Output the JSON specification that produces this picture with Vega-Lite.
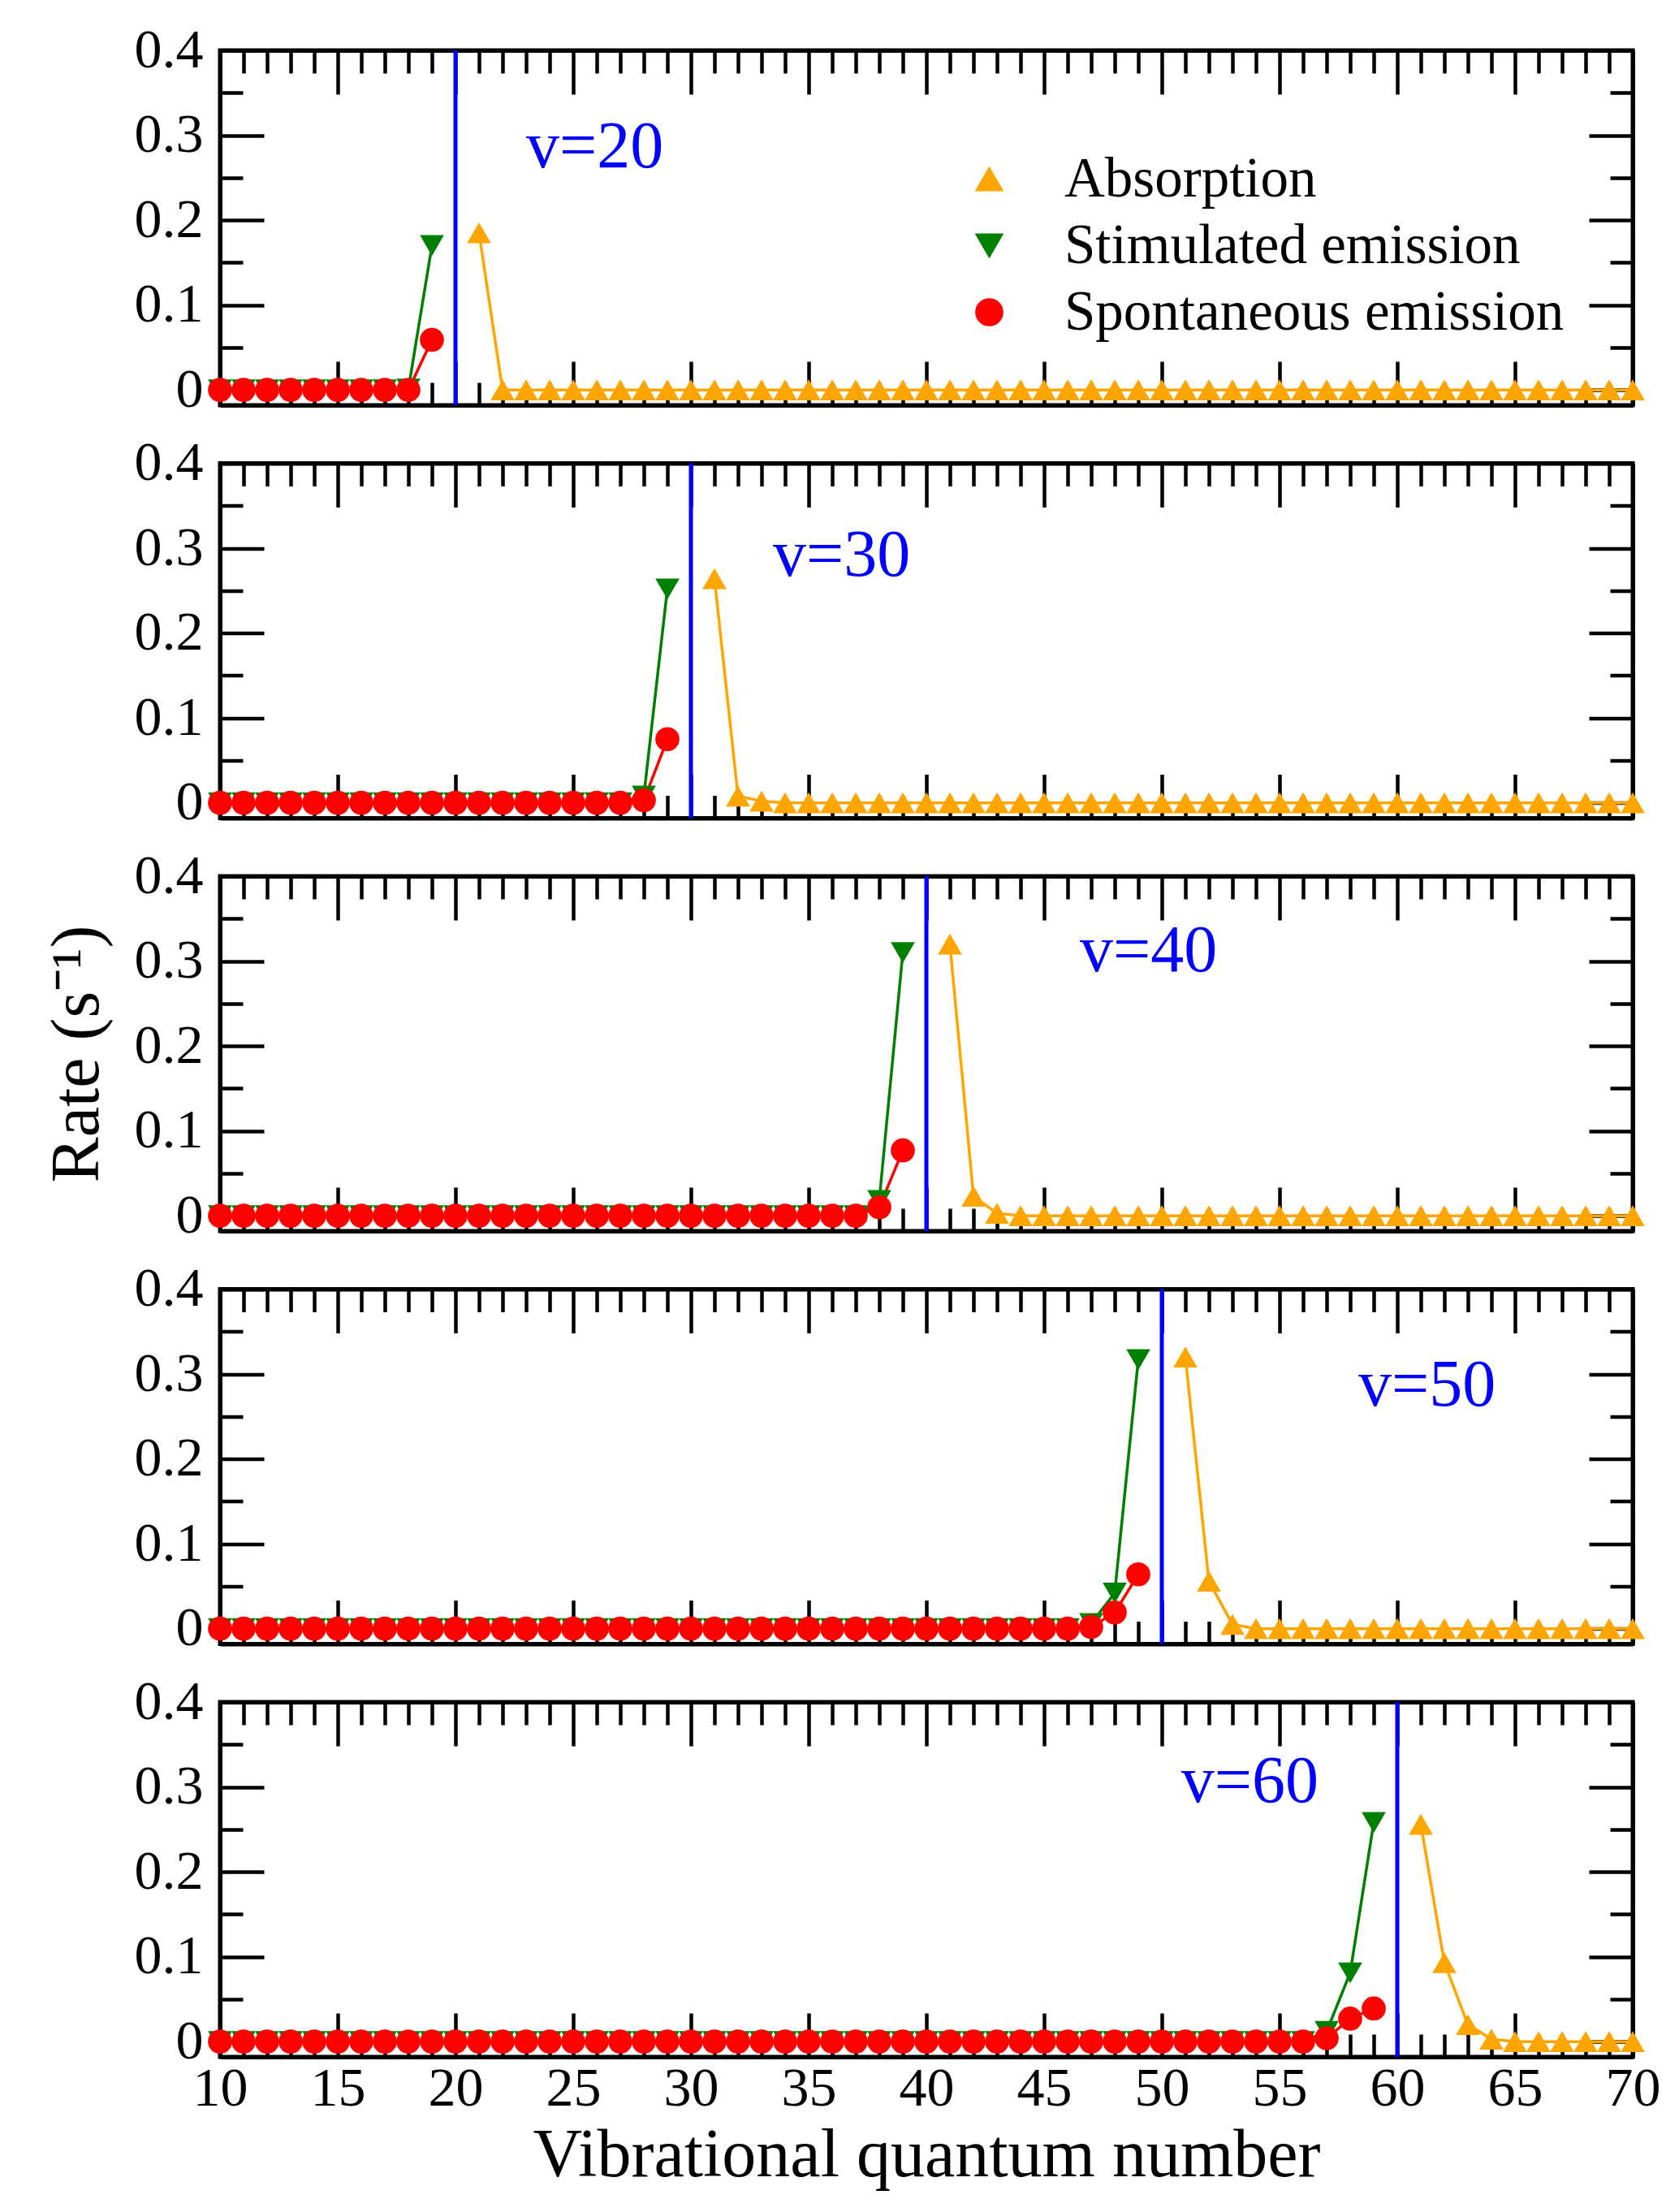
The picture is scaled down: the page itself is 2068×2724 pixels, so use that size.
{
"$schema":"https://vega.github.io/schema/vega-lite/v6.json",
"background":"white",
"padding":{"left":50,"top":25,"right":5,"bottom":5},
"datasets":{
"panels":[{"v":20,"label":"v=20"},{"v":30,"label":"v=30"},{"v":40,"label":"v=40"},{"v":50,"label":"v=50"},{"v":60,"label":"v=60"}],
"rates":[
{"v":20,"series":"A","n":21,"rate":0.185},{"v":20,"series":"A","n":22,"rate":0},{"v":20,"series":"A","n":23,"rate":0},{"v":20,"series":"A","n":24,"rate":0},{"v":20,"series":"A","n":25,"rate":0},{"v":20,"series":"A","n":26,"rate":0},{"v":20,"series":"A","n":27,"rate":0},{"v":20,"series":"A","n":28,"rate":0},{"v":20,"series":"A","n":29,"rate":0},{"v":20,"series":"A","n":30,"rate":0},{"v":20,"series":"A","n":31,"rate":0},{"v":20,"series":"A","n":32,"rate":0},{"v":20,"series":"A","n":33,"rate":0},{"v":20,"series":"A","n":34,"rate":0},{"v":20,"series":"A","n":35,"rate":0},{"v":20,"series":"A","n":36,"rate":0},{"v":20,"series":"A","n":37,"rate":0},{"v":20,"series":"A","n":38,"rate":0},{"v":20,"series":"A","n":39,"rate":0},{"v":20,"series":"A","n":40,"rate":0},{"v":20,"series":"A","n":41,"rate":0},{"v":20,"series":"A","n":42,"rate":0},{"v":20,"series":"A","n":43,"rate":0},{"v":20,"series":"A","n":44,"rate":0},{"v":20,"series":"A","n":45,"rate":0},{"v":20,"series":"A","n":46,"rate":0},{"v":20,"series":"A","n":47,"rate":0},{"v":20,"series":"A","n":48,"rate":0},{"v":20,"series":"A","n":49,"rate":0},{"v":20,"series":"A","n":50,"rate":0},{"v":20,"series":"A","n":51,"rate":0},{"v":20,"series":"A","n":52,"rate":0},{"v":20,"series":"A","n":53,"rate":0},{"v":20,"series":"A","n":54,"rate":0},{"v":20,"series":"A","n":55,"rate":0},{"v":20,"series":"A","n":56,"rate":0},{"v":20,"series":"A","n":57,"rate":0},{"v":20,"series":"A","n":58,"rate":0},{"v":20,"series":"A","n":59,"rate":0},{"v":20,"series":"A","n":60,"rate":0},{"v":20,"series":"A","n":61,"rate":0},{"v":20,"series":"A","n":62,"rate":0},{"v":20,"series":"A","n":63,"rate":0},{"v":20,"series":"A","n":64,"rate":0},{"v":20,"series":"A","n":65,"rate":0},{"v":20,"series":"A","n":66,"rate":0},{"v":20,"series":"A","n":67,"rate":0},{"v":20,"series":"A","n":68,"rate":0},{"v":20,"series":"A","n":69,"rate":0},{"v":20,"series":"A","n":70,"rate":0},
{"v":20,"series":"S","n":10,"rate":0},{"v":20,"series":"S","n":11,"rate":0},{"v":20,"series":"S","n":12,"rate":0},{"v":20,"series":"S","n":13,"rate":0},{"v":20,"series":"S","n":14,"rate":0},{"v":20,"series":"S","n":15,"rate":0},{"v":20,"series":"S","n":16,"rate":0},{"v":20,"series":"S","n":17,"rate":0},{"v":20,"series":"S","n":18,"rate":0.001},{"v":20,"series":"S","n":19,"rate":0.170},
{"v":20,"series":"P","n":10,"rate":0},{"v":20,"series":"P","n":11,"rate":0},{"v":20,"series":"P","n":12,"rate":0},{"v":20,"series":"P","n":13,"rate":0},{"v":20,"series":"P","n":14,"rate":0},{"v":20,"series":"P","n":15,"rate":0},{"v":20,"series":"P","n":16,"rate":0},{"v":20,"series":"P","n":17,"rate":0},{"v":20,"series":"P","n":18,"rate":0},{"v":20,"series":"P","n":19,"rate":0.059},
{"v":30,"series":"A","n":31,"rate":0.264},{"v":30,"series":"A","n":32,"rate":0.008},{"v":30,"series":"A","n":33,"rate":0.002},{"v":30,"series":"A","n":34,"rate":0},{"v":30,"series":"A","n":35,"rate":0},{"v":30,"series":"A","n":36,"rate":0},{"v":30,"series":"A","n":37,"rate":0},{"v":30,"series":"A","n":38,"rate":0},{"v":30,"series":"A","n":39,"rate":0},{"v":30,"series":"A","n":40,"rate":0},{"v":30,"series":"A","n":41,"rate":0},{"v":30,"series":"A","n":42,"rate":0},{"v":30,"series":"A","n":43,"rate":0},{"v":30,"series":"A","n":44,"rate":0},{"v":30,"series":"A","n":45,"rate":0},{"v":30,"series":"A","n":46,"rate":0},{"v":30,"series":"A","n":47,"rate":0},{"v":30,"series":"A","n":48,"rate":0},{"v":30,"series":"A","n":49,"rate":0},{"v":30,"series":"A","n":50,"rate":0},{"v":30,"series":"A","n":51,"rate":0},{"v":30,"series":"A","n":52,"rate":0},{"v":30,"series":"A","n":53,"rate":0},{"v":30,"series":"A","n":54,"rate":0},{"v":30,"series":"A","n":55,"rate":0},{"v":30,"series":"A","n":56,"rate":0},{"v":30,"series":"A","n":57,"rate":0},{"v":30,"series":"A","n":58,"rate":0},{"v":30,"series":"A","n":59,"rate":0},{"v":30,"series":"A","n":60,"rate":0},{"v":30,"series":"A","n":61,"rate":0},{"v":30,"series":"A","n":62,"rate":0},{"v":30,"series":"A","n":63,"rate":0},{"v":30,"series":"A","n":64,"rate":0},{"v":30,"series":"A","n":65,"rate":0},{"v":30,"series":"A","n":66,"rate":0},{"v":30,"series":"A","n":67,"rate":0},{"v":30,"series":"A","n":68,"rate":0},{"v":30,"series":"A","n":69,"rate":0},{"v":30,"series":"A","n":70,"rate":0},
{"v":30,"series":"S","n":10,"rate":0},{"v":30,"series":"S","n":11,"rate":0},{"v":30,"series":"S","n":12,"rate":0},{"v":30,"series":"S","n":13,"rate":0},{"v":30,"series":"S","n":14,"rate":0},{"v":30,"series":"S","n":15,"rate":0},{"v":30,"series":"S","n":16,"rate":0},{"v":30,"series":"S","n":17,"rate":0},{"v":30,"series":"S","n":18,"rate":0},{"v":30,"series":"S","n":19,"rate":0},{"v":30,"series":"S","n":20,"rate":0},{"v":30,"series":"S","n":21,"rate":0},{"v":30,"series":"S","n":22,"rate":0},{"v":30,"series":"S","n":23,"rate":0},{"v":30,"series":"S","n":24,"rate":0},{"v":30,"series":"S","n":25,"rate":0},{"v":30,"series":"S","n":26,"rate":0},{"v":30,"series":"S","n":27,"rate":0},{"v":30,"series":"S","n":28,"rate":0.008},{"v":30,"series":"S","n":29,"rate":0.252},
{"v":30,"series":"P","n":10,"rate":0},{"v":30,"series":"P","n":11,"rate":0},{"v":30,"series":"P","n":12,"rate":0},{"v":30,"series":"P","n":13,"rate":0},{"v":30,"series":"P","n":14,"rate":0},{"v":30,"series":"P","n":15,"rate":0},{"v":30,"series":"P","n":16,"rate":0},{"v":30,"series":"P","n":17,"rate":0},{"v":30,"series":"P","n":18,"rate":0},{"v":30,"series":"P","n":19,"rate":0},{"v":30,"series":"P","n":20,"rate":0},{"v":30,"series":"P","n":21,"rate":0},{"v":30,"series":"P","n":22,"rate":0},{"v":30,"series":"P","n":23,"rate":0},{"v":30,"series":"P","n":24,"rate":0},{"v":30,"series":"P","n":25,"rate":0},{"v":30,"series":"P","n":26,"rate":0},{"v":30,"series":"P","n":27,"rate":0},{"v":30,"series":"P","n":28,"rate":0.003},{"v":30,"series":"P","n":29,"rate":0.075},
{"v":40,"series":"A","n":41,"rate":0.320},{"v":40,"series":"A","n":42,"rate":0.023},{"v":40,"series":"A","n":43,"rate":0.003},{"v":40,"series":"A","n":44,"rate":0},{"v":40,"series":"A","n":45,"rate":0},{"v":40,"series":"A","n":46,"rate":0},{"v":40,"series":"A","n":47,"rate":0},{"v":40,"series":"A","n":48,"rate":0},{"v":40,"series":"A","n":49,"rate":0},{"v":40,"series":"A","n":50,"rate":0},{"v":40,"series":"A","n":51,"rate":0},{"v":40,"series":"A","n":52,"rate":0},{"v":40,"series":"A","n":53,"rate":0},{"v":40,"series":"A","n":54,"rate":0},{"v":40,"series":"A","n":55,"rate":0},{"v":40,"series":"A","n":56,"rate":0},{"v":40,"series":"A","n":57,"rate":0},{"v":40,"series":"A","n":58,"rate":0},{"v":40,"series":"A","n":59,"rate":0},{"v":40,"series":"A","n":60,"rate":0},{"v":40,"series":"A","n":61,"rate":0},{"v":40,"series":"A","n":62,"rate":0},{"v":40,"series":"A","n":63,"rate":0},{"v":40,"series":"A","n":64,"rate":0},{"v":40,"series":"A","n":65,"rate":0},{"v":40,"series":"A","n":66,"rate":0},{"v":40,"series":"A","n":67,"rate":0},{"v":40,"series":"A","n":68,"rate":0},{"v":40,"series":"A","n":69,"rate":0},{"v":40,"series":"A","n":70,"rate":0},
{"v":40,"series":"S","n":10,"rate":0},{"v":40,"series":"S","n":11,"rate":0},{"v":40,"series":"S","n":12,"rate":0},{"v":40,"series":"S","n":13,"rate":0},{"v":40,"series":"S","n":14,"rate":0},{"v":40,"series":"S","n":15,"rate":0},{"v":40,"series":"S","n":16,"rate":0},{"v":40,"series":"S","n":17,"rate":0},{"v":40,"series":"S","n":18,"rate":0},{"v":40,"series":"S","n":19,"rate":0},{"v":40,"series":"S","n":20,"rate":0},{"v":40,"series":"S","n":21,"rate":0},{"v":40,"series":"S","n":22,"rate":0},{"v":40,"series":"S","n":23,"rate":0},{"v":40,"series":"S","n":24,"rate":0},{"v":40,"series":"S","n":25,"rate":0},{"v":40,"series":"S","n":26,"rate":0},{"v":40,"series":"S","n":27,"rate":0},{"v":40,"series":"S","n":28,"rate":0},{"v":40,"series":"S","n":29,"rate":0},{"v":40,"series":"S","n":30,"rate":0},{"v":40,"series":"S","n":31,"rate":0},{"v":40,"series":"S","n":32,"rate":0},{"v":40,"series":"S","n":33,"rate":0},{"v":40,"series":"S","n":34,"rate":0},{"v":40,"series":"S","n":35,"rate":0},{"v":40,"series":"S","n":36,"rate":0},{"v":40,"series":"S","n":37,"rate":0},{"v":40,"series":"S","n":38,"rate":0.018},{"v":40,"series":"S","n":39,"rate":0.310},
{"v":40,"series":"P","n":10,"rate":0},{"v":40,"series":"P","n":11,"rate":0},{"v":40,"series":"P","n":12,"rate":0},{"v":40,"series":"P","n":13,"rate":0},{"v":40,"series":"P","n":14,"rate":0},{"v":40,"series":"P","n":15,"rate":0},{"v":40,"series":"P","n":16,"rate":0},{"v":40,"series":"P","n":17,"rate":0},{"v":40,"series":"P","n":18,"rate":0},{"v":40,"series":"P","n":19,"rate":0},{"v":40,"series":"P","n":20,"rate":0},{"v":40,"series":"P","n":21,"rate":0},{"v":40,"series":"P","n":22,"rate":0},{"v":40,"series":"P","n":23,"rate":0},{"v":40,"series":"P","n":24,"rate":0},{"v":40,"series":"P","n":25,"rate":0},{"v":40,"series":"P","n":26,"rate":0},{"v":40,"series":"P","n":27,"rate":0},{"v":40,"series":"P","n":28,"rate":0},{"v":40,"series":"P","n":29,"rate":0},{"v":40,"series":"P","n":30,"rate":0},{"v":40,"series":"P","n":31,"rate":0},{"v":40,"series":"P","n":32,"rate":0},{"v":40,"series":"P","n":33,"rate":0},{"v":40,"series":"P","n":34,"rate":0},{"v":40,"series":"P","n":35,"rate":0},{"v":40,"series":"P","n":36,"rate":0},{"v":40,"series":"P","n":37,"rate":0},{"v":40,"series":"P","n":38,"rate":0.010},{"v":40,"series":"P","n":39,"rate":0.077},
{"v":50,"series":"A","n":51,"rate":0.320},{"v":50,"series":"A","n":52,"rate":0.056},{"v":50,"series":"A","n":53,"rate":0.005},{"v":50,"series":"A","n":54,"rate":0},{"v":50,"series":"A","n":55,"rate":0},{"v":50,"series":"A","n":56,"rate":0},{"v":50,"series":"A","n":57,"rate":0},{"v":50,"series":"A","n":58,"rate":0},{"v":50,"series":"A","n":59,"rate":0},{"v":50,"series":"A","n":60,"rate":0},{"v":50,"series":"A","n":61,"rate":0},{"v":50,"series":"A","n":62,"rate":0},{"v":50,"series":"A","n":63,"rate":0},{"v":50,"series":"A","n":64,"rate":0},{"v":50,"series":"A","n":65,"rate":0},{"v":50,"series":"A","n":66,"rate":0},{"v":50,"series":"A","n":67,"rate":0},{"v":50,"series":"A","n":68,"rate":0},{"v":50,"series":"A","n":69,"rate":0},{"v":50,"series":"A","n":70,"rate":0},
{"v":50,"series":"S","n":10,"rate":0},{"v":50,"series":"S","n":11,"rate":0},{"v":50,"series":"S","n":12,"rate":0},{"v":50,"series":"S","n":13,"rate":0},{"v":50,"series":"S","n":14,"rate":0},{"v":50,"series":"S","n":15,"rate":0},{"v":50,"series":"S","n":16,"rate":0},{"v":50,"series":"S","n":17,"rate":0},{"v":50,"series":"S","n":18,"rate":0},{"v":50,"series":"S","n":19,"rate":0},{"v":50,"series":"S","n":20,"rate":0},{"v":50,"series":"S","n":21,"rate":0},{"v":50,"series":"S","n":22,"rate":0},{"v":50,"series":"S","n":23,"rate":0},{"v":50,"series":"S","n":24,"rate":0},{"v":50,"series":"S","n":25,"rate":0},{"v":50,"series":"S","n":26,"rate":0},{"v":50,"series":"S","n":27,"rate":0},{"v":50,"series":"S","n":28,"rate":0},{"v":50,"series":"S","n":29,"rate":0},{"v":50,"series":"S","n":30,"rate":0},{"v":50,"series":"S","n":31,"rate":0},{"v":50,"series":"S","n":32,"rate":0},{"v":50,"series":"S","n":33,"rate":0},{"v":50,"series":"S","n":34,"rate":0},{"v":50,"series":"S","n":35,"rate":0},{"v":50,"series":"S","n":36,"rate":0},{"v":50,"series":"S","n":37,"rate":0},{"v":50,"series":"S","n":38,"rate":0},{"v":50,"series":"S","n":39,"rate":0},{"v":50,"series":"S","n":40,"rate":0},{"v":50,"series":"S","n":41,"rate":0},{"v":50,"series":"S","n":42,"rate":0},{"v":50,"series":"S","n":43,"rate":0},{"v":50,"series":"S","n":44,"rate":0},{"v":50,"series":"S","n":45,"rate":0},{"v":50,"series":"S","n":46,"rate":0},{"v":50,"series":"S","n":47,"rate":0.006},{"v":50,"series":"S","n":48,"rate":0.042},{"v":50,"series":"S","n":49,"rate":0.317},
{"v":50,"series":"P","n":10,"rate":0},{"v":50,"series":"P","n":11,"rate":0},{"v":50,"series":"P","n":12,"rate":0},{"v":50,"series":"P","n":13,"rate":0},{"v":50,"series":"P","n":14,"rate":0},{"v":50,"series":"P","n":15,"rate":0},{"v":50,"series":"P","n":16,"rate":0},{"v":50,"series":"P","n":17,"rate":0},{"v":50,"series":"P","n":18,"rate":0},{"v":50,"series":"P","n":19,"rate":0},{"v":50,"series":"P","n":20,"rate":0},{"v":50,"series":"P","n":21,"rate":0},{"v":50,"series":"P","n":22,"rate":0},{"v":50,"series":"P","n":23,"rate":0},{"v":50,"series":"P","n":24,"rate":0},{"v":50,"series":"P","n":25,"rate":0},{"v":50,"series":"P","n":26,"rate":0},{"v":50,"series":"P","n":27,"rate":0},{"v":50,"series":"P","n":28,"rate":0},{"v":50,"series":"P","n":29,"rate":0},{"v":50,"series":"P","n":30,"rate":0},{"v":50,"series":"P","n":31,"rate":0},{"v":50,"series":"P","n":32,"rate":0},{"v":50,"series":"P","n":33,"rate":0},{"v":50,"series":"P","n":34,"rate":0},{"v":50,"series":"P","n":35,"rate":0},{"v":50,"series":"P","n":36,"rate":0},{"v":50,"series":"P","n":37,"rate":0},{"v":50,"series":"P","n":38,"rate":0},{"v":50,"series":"P","n":39,"rate":0},{"v":50,"series":"P","n":40,"rate":0},{"v":50,"series":"P","n":41,"rate":0},{"v":50,"series":"P","n":42,"rate":0},{"v":50,"series":"P","n":43,"rate":0},{"v":50,"series":"P","n":44,"rate":0},{"v":50,"series":"P","n":45,"rate":0},{"v":50,"series":"P","n":46,"rate":0},{"v":50,"series":"P","n":47,"rate":0.002},{"v":50,"series":"P","n":48,"rate":0.019},{"v":50,"series":"P","n":49,"rate":0.064},
{"v":60,"series":"A","n":61,"rate":0.256},{"v":60,"series":"A","n":62,"rate":0.093},{"v":60,"series":"A","n":63,"rate":0.020},{"v":60,"series":"A","n":64,"rate":0.003},{"v":60,"series":"A","n":65,"rate":0},{"v":60,"series":"A","n":66,"rate":0},{"v":60,"series":"A","n":67,"rate":0},{"v":60,"series":"A","n":68,"rate":0},{"v":60,"series":"A","n":69,"rate":0},{"v":60,"series":"A","n":70,"rate":0},
{"v":60,"series":"S","n":10,"rate":0},{"v":60,"series":"S","n":11,"rate":0},{"v":60,"series":"S","n":12,"rate":0},{"v":60,"series":"S","n":13,"rate":0},{"v":60,"series":"S","n":14,"rate":0},{"v":60,"series":"S","n":15,"rate":0},{"v":60,"series":"S","n":16,"rate":0},{"v":60,"series":"S","n":17,"rate":0},{"v":60,"series":"S","n":18,"rate":0},{"v":60,"series":"S","n":19,"rate":0},{"v":60,"series":"S","n":20,"rate":0},{"v":60,"series":"S","n":21,"rate":0},{"v":60,"series":"S","n":22,"rate":0},{"v":60,"series":"S","n":23,"rate":0},{"v":60,"series":"S","n":24,"rate":0},{"v":60,"series":"S","n":25,"rate":0},{"v":60,"series":"S","n":26,"rate":0},{"v":60,"series":"S","n":27,"rate":0},{"v":60,"series":"S","n":28,"rate":0},{"v":60,"series":"S","n":29,"rate":0},{"v":60,"series":"S","n":30,"rate":0},{"v":60,"series":"S","n":31,"rate":0},{"v":60,"series":"S","n":32,"rate":0},{"v":60,"series":"S","n":33,"rate":0},{"v":60,"series":"S","n":34,"rate":0},{"v":60,"series":"S","n":35,"rate":0},{"v":60,"series":"S","n":36,"rate":0},{"v":60,"series":"S","n":37,"rate":0},{"v":60,"series":"S","n":38,"rate":0},{"v":60,"series":"S","n":39,"rate":0},{"v":60,"series":"S","n":40,"rate":0},{"v":60,"series":"S","n":41,"rate":0},{"v":60,"series":"S","n":42,"rate":0},{"v":60,"series":"S","n":43,"rate":0},{"v":60,"series":"S","n":44,"rate":0},{"v":60,"series":"S","n":45,"rate":0},{"v":60,"series":"S","n":46,"rate":0},{"v":60,"series":"S","n":47,"rate":0},{"v":60,"series":"S","n":48,"rate":0},{"v":60,"series":"S","n":49,"rate":0},{"v":60,"series":"S","n":50,"rate":0},{"v":60,"series":"S","n":51,"rate":0},{"v":60,"series":"S","n":52,"rate":0},{"v":60,"series":"S","n":53,"rate":0},{"v":60,"series":"S","n":54,"rate":0},{"v":60,"series":"S","n":55,"rate":0},{"v":60,"series":"S","n":56,"rate":0},{"v":60,"series":"S","n":57,"rate":0.012},{"v":60,"series":"S","n":58,"rate":0.081},{"v":60,"series":"S","n":59,"rate":0.258},
{"v":60,"series":"P","n":10,"rate":0},{"v":60,"series":"P","n":11,"rate":0},{"v":60,"series":"P","n":12,"rate":0},{"v":60,"series":"P","n":13,"rate":0},{"v":60,"series":"P","n":14,"rate":0},{"v":60,"series":"P","n":15,"rate":0},{"v":60,"series":"P","n":16,"rate":0},{"v":60,"series":"P","n":17,"rate":0},{"v":60,"series":"P","n":18,"rate":0},{"v":60,"series":"P","n":19,"rate":0},{"v":60,"series":"P","n":20,"rate":0},{"v":60,"series":"P","n":21,"rate":0},{"v":60,"series":"P","n":22,"rate":0},{"v":60,"series":"P","n":23,"rate":0},{"v":60,"series":"P","n":24,"rate":0},{"v":60,"series":"P","n":25,"rate":0},{"v":60,"series":"P","n":26,"rate":0},{"v":60,"series":"P","n":27,"rate":0},{"v":60,"series":"P","n":28,"rate":0},{"v":60,"series":"P","n":29,"rate":0},{"v":60,"series":"P","n":30,"rate":0},{"v":60,"series":"P","n":31,"rate":0},{"v":60,"series":"P","n":32,"rate":0},{"v":60,"series":"P","n":33,"rate":0},{"v":60,"series":"P","n":34,"rate":0},{"v":60,"series":"P","n":35,"rate":0},{"v":60,"series":"P","n":36,"rate":0},{"v":60,"series":"P","n":37,"rate":0},{"v":60,"series":"P","n":38,"rate":0},{"v":60,"series":"P","n":39,"rate":0},{"v":60,"series":"P","n":40,"rate":0},{"v":60,"series":"P","n":41,"rate":0},{"v":60,"series":"P","n":42,"rate":0},{"v":60,"series":"P","n":43,"rate":0},{"v":60,"series":"P","n":44,"rate":0},{"v":60,"series":"P","n":45,"rate":0},{"v":60,"series":"P","n":46,"rate":0},{"v":60,"series":"P","n":47,"rate":0},{"v":60,"series":"P","n":48,"rate":0},{"v":60,"series":"P","n":49,"rate":0},{"v":60,"series":"P","n":50,"rate":0},{"v":60,"series":"P","n":51,"rate":0},{"v":60,"series":"P","n":52,"rate":0},{"v":60,"series":"P","n":53,"rate":0},{"v":60,"series":"P","n":54,"rate":0},{"v":60,"series":"P","n":55,"rate":0},{"v":60,"series":"P","n":56,"rate":0},{"v":60,"series":"P","n":57,"rate":0.004},{"v":60,"series":"P","n":58,"rate":0.027},{"v":60,"series":"P","n":59,"rate":0.039}
]},
"spacing":71.5,
"bounds":"flush",
"vconcat":[
{"width":1740,"height":437,
 "resolve":{"axis":{"x":"independent","y":"independent"}},
 "layer":[
  {"data":{"name":"panels"},"transform":[{"filter":"datum.v === 20"}],"mark":{"type":"rule","color":"#0000FF","strokeWidth":5},"encoding":{"x":{"field":"v","type":"quantitative","axis":null}}},
  {"data":{"name":"rates"},"transform":[{"filter":"datum.v === 20"}],"mark":{"type":"line","strokeWidth":3.5},
   "encoding":{
    "x":{"field":"n","type":"quantitative","scale":{"domain":[10,70],"nice":false,"zero":false},"axis":{"orient":"bottom","values":[10,11,12,13,14,15,16,17,18,19,20,21,22,23,24,25,26,27,28,29,30,31,32,33,34,35,36,37,38,39,40,41,42,43,44,45,46,47,48,49,50,51,52,53,54,55,56,57,58,59,60,61,62,63,64,65,66,67,68,69,70],"labels":false,"title":null,"tickSize":{"condition":{"test":"datum.value % 5 === 0","value":-54},"value":-28}}},
    "y":{"field":"rate","type":"quantitative","scale":{"domain":[-0.018,0.4],"nice":false,"zero":false},"axis":{"orient":"left","values":[0,0.05,0.1,0.15,0.2,0.25,0.3,0.35,0.4],"labelExpr":"datum.value === 0 ? '0' : (round(datum.value*100) % 10 === 0 ? format(datum.value, '.1f') : '')","labelPadding":75,"title":null,"tickSize":{"condition":{"test":"round(datum.value*100) % 10 === 0","value":-54},"value":-28}}},
    "color":{"field":"series","type":"nominal","scale":{"domain":["A","S","P"],"range":["#FFA500","#008000","#FF0000"]},
      "legend":{"title":null,"orient":"none","legendX":913,"legendY":124,"padding":0,"labelFont":"Liberation Serif","labelFontSize":69,"labelColor":"black","labelLimit":2000,"symbolSize":1100,"labelOffset":58,"rowPadding":12,
       "labelExpr":"datum.value === 'A' ? 'Absorption' : datum.value === 'S' ? 'Stimulated emission' : 'Spontaneous emission'"}},
    "detail":{"field":"series"},
    "order":{"field":"n","type":"quantitative"}}},
  {"data":{"name":"rates"},"transform":[{"filter":"datum.v === 20"}],"mark":{"type":"point","filled":true,"opacity":1,"size":880},
   "encoding":{
    "x":{"field":"n","type":"quantitative","scale":{"domain":[10,70],"nice":false,"zero":false},"axis":{"orient":"top","values":[10,11,12,13,14,15,16,17,18,19,20,21,22,23,24,25,26,27,28,29,30,31,32,33,34,35,36,37,38,39,40,41,42,43,44,45,46,47,48,49,50,51,52,53,54,55,56,57,58,59,60,61,62,63,64,65,66,67,68,69,70],"labels":false,"title":null,"tickSize":{"condition":{"test":"datum.value % 5 === 0","value":-54},"value":-28}}},
    "y":{"field":"rate","type":"quantitative","scale":{"domain":[-0.018,0.4],"nice":false,"zero":false},"axis":{"orient":"right","values":[0,0.05,0.1,0.15,0.2,0.25,0.3,0.35,0.4],"labels":false,"title":null,"tickSize":{"condition":{"test":"round(datum.value*100) % 10 === 0","value":-54},"value":-28}}},
    "color":{"field":"series","type":"nominal","scale":{"domain":["A","S","P"],"range":["#FFA500","#008000","#FF0000"]},"legend":null},
    "shape":{"field":"series","type":"nominal","scale":{"domain":["A","S","P"],"range":["triangle-up","triangle-down","circle"]},"legend":null}}},
  {"data":{"name":"panels"},"transform":[{"filter":"datum.v === 20"}],"mark":{"type":"text","align":"left","baseline":"alphabetic","dx":87,"font":"Liberation Serif","fontSize":82,"color":"#0000FF"},
   "encoding":{"x":{"field":"v","type":"quantitative","axis":null},"y":{"datum":0.262,"axis":null},"text":{"field":"label"}}}
 ]},
{"width":1740,"height":437,
 "resolve":{"axis":{"x":"independent","y":"independent"}},
 "layer":[
  {"data":{"name":"panels"},"transform":[{"filter":"datum.v === 30"}],"mark":{"type":"rule","color":"#0000FF","strokeWidth":5},"encoding":{"x":{"field":"v","type":"quantitative","axis":null}}},
  {"data":{"name":"rates"},"transform":[{"filter":"datum.v === 30"}],"mark":{"type":"line","strokeWidth":3.5},
   "encoding":{
    "x":{"field":"n","type":"quantitative","scale":{"domain":[10,70],"nice":false,"zero":false},"axis":{"orient":"bottom","values":[10,11,12,13,14,15,16,17,18,19,20,21,22,23,24,25,26,27,28,29,30,31,32,33,34,35,36,37,38,39,40,41,42,43,44,45,46,47,48,49,50,51,52,53,54,55,56,57,58,59,60,61,62,63,64,65,66,67,68,69,70],"labels":false,"title":null,"tickSize":{"condition":{"test":"datum.value % 5 === 0","value":-54},"value":-28}}},
    "y":{"field":"rate","type":"quantitative","scale":{"domain":[-0.018,0.4],"nice":false,"zero":false},"axis":{"orient":"left","values":[0,0.05,0.1,0.15,0.2,0.25,0.3,0.35,0.4],"labelExpr":"datum.value === 0 ? '0' : (round(datum.value*100) % 10 === 0 ? format(datum.value, '.1f') : '')","labelPadding":75,"title":null,"tickSize":{"condition":{"test":"round(datum.value*100) % 10 === 0","value":-54},"value":-28}}},
    "color":{"field":"series","type":"nominal","scale":{"domain":["A","S","P"],"range":["#FFA500","#008000","#FF0000"]},"legend":null},
    "detail":{"field":"series"},
    "order":{"field":"n","type":"quantitative"}}},
  {"data":{"name":"rates"},"transform":[{"filter":"datum.v === 30"}],"mark":{"type":"point","filled":true,"opacity":1,"size":880},
   "encoding":{
    "x":{"field":"n","type":"quantitative","scale":{"domain":[10,70],"nice":false,"zero":false},"axis":{"orient":"top","values":[10,11,12,13,14,15,16,17,18,19,20,21,22,23,24,25,26,27,28,29,30,31,32,33,34,35,36,37,38,39,40,41,42,43,44,45,46,47,48,49,50,51,52,53,54,55,56,57,58,59,60,61,62,63,64,65,66,67,68,69,70],"labels":false,"title":null,"tickSize":{"condition":{"test":"datum.value % 5 === 0","value":-54},"value":-28}}},
    "y":{"field":"rate","type":"quantitative","scale":{"domain":[-0.018,0.4],"nice":false,"zero":false},"axis":{"orient":"right","values":[0,0.05,0.1,0.15,0.2,0.25,0.3,0.35,0.4],"labels":false,"title":null,"tickSize":{"condition":{"test":"round(datum.value*100) % 10 === 0","value":-54},"value":-28}}},
    "color":{"field":"series","type":"nominal","scale":{"domain":["A","S","P"],"range":["#FFA500","#008000","#FF0000"]},"legend":null},
    "shape":{"field":"series","type":"nominal","scale":{"domain":["A","S","P"],"range":["triangle-up","triangle-down","circle"]},"legend":null}}},
  {"data":{"name":"panels"},"transform":[{"filter":"datum.v === 30"}],"mark":{"type":"text","align":"left","baseline":"alphabetic","dx":101,"font":"Liberation Serif","fontSize":82,"color":"#0000FF"},
   "encoding":{"x":{"field":"v","type":"quantitative","axis":null},"y":{"datum":0.2675,"axis":null},"text":{"field":"label"}}}
 ]},
{"width":1740,"height":437,
 "resolve":{"axis":{"x":"independent","y":"independent"}},
 "layer":[
  {"data":{"name":"panels"},"transform":[{"filter":"datum.v === 40"}],"mark":{"type":"rule","color":"#0000FF","strokeWidth":5},"encoding":{"x":{"field":"v","type":"quantitative","axis":null}}},
  {"data":{"name":"rates"},"transform":[{"filter":"datum.v === 40"}],"mark":{"type":"line","strokeWidth":3.5},
   "encoding":{
    "x":{"field":"n","type":"quantitative","scale":{"domain":[10,70],"nice":false,"zero":false},"axis":{"orient":"bottom","values":[10,11,12,13,14,15,16,17,18,19,20,21,22,23,24,25,26,27,28,29,30,31,32,33,34,35,36,37,38,39,40,41,42,43,44,45,46,47,48,49,50,51,52,53,54,55,56,57,58,59,60,61,62,63,64,65,66,67,68,69,70],"labels":false,"title":null,"tickSize":{"condition":{"test":"datum.value % 5 === 0","value":-54},"value":-28}}},
    "y":{"field":"rate","type":"quantitative","scale":{"domain":[-0.018,0.4],"nice":false,"zero":false},"axis":{"orient":"left","values":[0,0.05,0.1,0.15,0.2,0.25,0.3,0.35,0.4],"labelExpr":"datum.value === 0 ? '0' : (round(datum.value*100) % 10 === 0 ? format(datum.value, '.1f') : '')","labelPadding":75,"title":"Rate (s⁻¹)","titlePadding":27,"tickSize":{"condition":{"test":"round(datum.value*100) % 10 === 0","value":-54},"value":-28}}},
    "color":{"field":"series","type":"nominal","scale":{"domain":["A","S","P"],"range":["#FFA500","#008000","#FF0000"]},"legend":null},
    "detail":{"field":"series"},
    "order":{"field":"n","type":"quantitative"}}},
  {"data":{"name":"rates"},"transform":[{"filter":"datum.v === 40"}],"mark":{"type":"point","filled":true,"opacity":1,"size":880},
   "encoding":{
    "x":{"field":"n","type":"quantitative","scale":{"domain":[10,70],"nice":false,"zero":false},"axis":{"orient":"top","values":[10,11,12,13,14,15,16,17,18,19,20,21,22,23,24,25,26,27,28,29,30,31,32,33,34,35,36,37,38,39,40,41,42,43,44,45,46,47,48,49,50,51,52,53,54,55,56,57,58,59,60,61,62,63,64,65,66,67,68,69,70],"labels":false,"title":null,"tickSize":{"condition":{"test":"datum.value % 5 === 0","value":-54},"value":-28}}},
    "y":{"field":"rate","type":"quantitative","scale":{"domain":[-0.018,0.4],"nice":false,"zero":false},"axis":{"orient":"right","values":[0,0.05,0.1,0.15,0.2,0.25,0.3,0.35,0.4],"labels":false,"title":null,"tickSize":{"condition":{"test":"round(datum.value*100) % 10 === 0","value":-54},"value":-28}}},
    "color":{"field":"series","type":"nominal","scale":{"domain":["A","S","P"],"range":["#FFA500","#008000","#FF0000"]},"legend":null},
    "shape":{"field":"series","type":"nominal","scale":{"domain":["A","S","P"],"range":["triangle-up","triangle-down","circle"]},"legend":null}}},
  {"data":{"name":"panels"},"transform":[{"filter":"datum.v === 40"}],"mark":{"type":"text","align":"left","baseline":"alphabetic","dx":189,"font":"Liberation Serif","fontSize":82,"color":"#0000FF"},
   "encoding":{"x":{"field":"v","type":"quantitative","axis":null},"y":{"datum":0.288,"axis":null},"text":{"field":"label"}}}
 ]},
{"width":1740,"height":437,
 "resolve":{"axis":{"x":"independent","y":"independent"}},
 "layer":[
  {"data":{"name":"panels"},"transform":[{"filter":"datum.v === 50"}],"mark":{"type":"rule","color":"#0000FF","strokeWidth":5},"encoding":{"x":{"field":"v","type":"quantitative","axis":null}}},
  {"data":{"name":"rates"},"transform":[{"filter":"datum.v === 50"}],"mark":{"type":"line","strokeWidth":3.5},
   "encoding":{
    "x":{"field":"n","type":"quantitative","scale":{"domain":[10,70],"nice":false,"zero":false},"axis":{"orient":"bottom","values":[10,11,12,13,14,15,16,17,18,19,20,21,22,23,24,25,26,27,28,29,30,31,32,33,34,35,36,37,38,39,40,41,42,43,44,45,46,47,48,49,50,51,52,53,54,55,56,57,58,59,60,61,62,63,64,65,66,67,68,69,70],"labels":false,"title":null,"tickSize":{"condition":{"test":"datum.value % 5 === 0","value":-54},"value":-28}}},
    "y":{"field":"rate","type":"quantitative","scale":{"domain":[-0.018,0.4],"nice":false,"zero":false},"axis":{"orient":"left","values":[0,0.05,0.1,0.15,0.2,0.25,0.3,0.35,0.4],"labelExpr":"datum.value === 0 ? '0' : (round(datum.value*100) % 10 === 0 ? format(datum.value, '.1f') : '')","labelPadding":75,"title":null,"tickSize":{"condition":{"test":"round(datum.value*100) % 10 === 0","value":-54},"value":-28}}},
    "color":{"field":"series","type":"nominal","scale":{"domain":["A","S","P"],"range":["#FFA500","#008000","#FF0000"]},"legend":null},
    "detail":{"field":"series"},
    "order":{"field":"n","type":"quantitative"}}},
  {"data":{"name":"rates"},"transform":[{"filter":"datum.v === 50"}],"mark":{"type":"point","filled":true,"opacity":1,"size":880},
   "encoding":{
    "x":{"field":"n","type":"quantitative","scale":{"domain":[10,70],"nice":false,"zero":false},"axis":{"orient":"top","values":[10,11,12,13,14,15,16,17,18,19,20,21,22,23,24,25,26,27,28,29,30,31,32,33,34,35,36,37,38,39,40,41,42,43,44,45,46,47,48,49,50,51,52,53,54,55,56,57,58,59,60,61,62,63,64,65,66,67,68,69,70],"labels":false,"title":null,"tickSize":{"condition":{"test":"datum.value % 5 === 0","value":-54},"value":-28}}},
    "y":{"field":"rate","type":"quantitative","scale":{"domain":[-0.018,0.4],"nice":false,"zero":false},"axis":{"orient":"right","values":[0,0.05,0.1,0.15,0.2,0.25,0.3,0.35,0.4],"labels":false,"title":null,"tickSize":{"condition":{"test":"round(datum.value*100) % 10 === 0","value":-54},"value":-28}}},
    "color":{"field":"series","type":"nominal","scale":{"domain":["A","S","P"],"range":["#FFA500","#008000","#FF0000"]},"legend":null},
    "shape":{"field":"series","type":"nominal","scale":{"domain":["A","S","P"],"range":["triangle-up","triangle-down","circle"]},"legend":null}}},
  {"data":{"name":"panels"},"transform":[{"filter":"datum.v === 50"}],"mark":{"type":"text","align":"left","baseline":"alphabetic","dx":242,"font":"Liberation Serif","fontSize":82,"color":"#0000FF"},
   "encoding":{"x":{"field":"v","type":"quantitative","axis":null},"y":{"datum":0.263,"axis":null},"text":{"field":"label"}}}
 ]},
{"width":1740,"height":437,
 "resolve":{"axis":{"x":"independent","y":"independent"}},
 "layer":[
  {"data":{"name":"panels"},"transform":[{"filter":"datum.v === 60"}],"mark":{"type":"rule","color":"#0000FF","strokeWidth":5},"encoding":{"x":{"field":"v","type":"quantitative","axis":null}}},
  {"data":{"name":"rates"},"transform":[{"filter":"datum.v === 60"}],"mark":{"type":"line","strokeWidth":3.5},
   "encoding":{
    "x":{"field":"n","type":"quantitative","scale":{"domain":[10,70],"nice":false,"zero":false},"axis":{"orient":"bottom","values":[10,11,12,13,14,15,16,17,18,19,20,21,22,23,24,25,26,27,28,29,30,31,32,33,34,35,36,37,38,39,40,41,42,43,44,45,46,47,48,49,50,51,52,53,54,55,56,57,58,59,60,61,62,63,64,65,66,67,68,69,70],"labelExpr":"datum.value % 5 === 0 ? datum.label : ''","labelPadding":59,"title":"Vibrational quantum number","titlePadding":7,"tickSize":{"condition":{"test":"datum.value % 5 === 0","value":-54},"value":-28}}},
    "y":{"field":"rate","type":"quantitative","scale":{"domain":[-0.018,0.4],"nice":false,"zero":false},"axis":{"orient":"left","values":[0,0.05,0.1,0.15,0.2,0.25,0.3,0.35,0.4],"labelExpr":"datum.value === 0 ? '0' : (round(datum.value*100) % 10 === 0 ? format(datum.value, '.1f') : '')","labelPadding":75,"title":null,"tickSize":{"condition":{"test":"round(datum.value*100) % 10 === 0","value":-54},"value":-28}}},
    "color":{"field":"series","type":"nominal","scale":{"domain":["A","S","P"],"range":["#FFA500","#008000","#FF0000"]},"legend":null},
    "detail":{"field":"series"},
    "order":{"field":"n","type":"quantitative"}}},
  {"data":{"name":"rates"},"transform":[{"filter":"datum.v === 60"}],"mark":{"type":"point","filled":true,"opacity":1,"size":880},
   "encoding":{
    "x":{"field":"n","type":"quantitative","scale":{"domain":[10,70],"nice":false,"zero":false},"axis":{"orient":"top","values":[10,11,12,13,14,15,16,17,18,19,20,21,22,23,24,25,26,27,28,29,30,31,32,33,34,35,36,37,38,39,40,41,42,43,44,45,46,47,48,49,50,51,52,53,54,55,56,57,58,59,60,61,62,63,64,65,66,67,68,69,70],"labels":false,"title":null,"tickSize":{"condition":{"test":"datum.value % 5 === 0","value":-54},"value":-28}}},
    "y":{"field":"rate","type":"quantitative","scale":{"domain":[-0.018,0.4],"nice":false,"zero":false},"axis":{"orient":"right","values":[0,0.05,0.1,0.15,0.2,0.25,0.3,0.35,0.4],"labels":false,"title":null,"tickSize":{"condition":{"test":"round(datum.value*100) % 10 === 0","value":-54},"value":-28}}},
    "color":{"field":"series","type":"nominal","scale":{"domain":["A","S","P"],"range":["#FFA500","#008000","#FF0000"]},"legend":null},
    "shape":{"field":"series","type":"nominal","scale":{"domain":["A","S","P"],"range":["triangle-up","triangle-down","circle"]},"legend":null}}},
  {"data":{"name":"panels"},"transform":[{"filter":"datum.v === 60"}],"mark":{"type":"text","align":"right","baseline":"alphabetic","dx":-97,"font":"Liberation Serif","fontSize":82,"color":"#0000FF"},
   "encoding":{"x":{"field":"v","type":"quantitative","axis":null},"y":{"datum":0.282,"axis":null},"text":{"field":"label"}}}
 ]}
],
"config":{
 "view":{"stroke":"black","strokeWidth":5},
 "axis":{"grid":false,"domain":true,"domainColor":"black","domainWidth":5,"tickColor":"black","tickWidth":4.5,"labelFlush":false,"labelFont":"Liberation Serif","labelFontSize":68,"labelColor":"black","titleFont":"Liberation Serif","titleFontSize":84,"titleColor":"black","titleFontWeight":"normal"}
}
}
